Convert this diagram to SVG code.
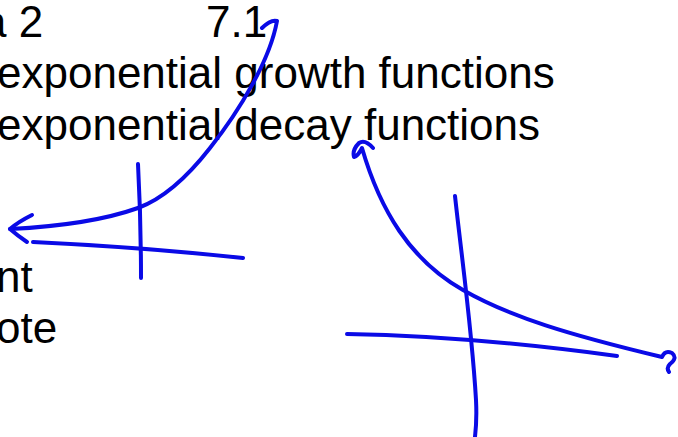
<svg xmlns="http://www.w3.org/2000/svg" width="678" height="437" viewBox="0 0 678 437">
<style>
text{font-family:"Liberation Sans",Arial,sans-serif;font-size:44px;fill:#000}
.ink{fill:none;stroke:#0a0ae6;stroke-width:4;stroke-linecap:round;stroke-linejoin:round}
</style>
<rect width="678" height="437" fill="#fff"/>
<g id="text">
<text x="-18" y="37">a 2</text>
<text x="206" y="37">7.1</text>
<text x="-3" y="88">exponential growth functions</text>
<text x="-3" y="140">exponential decay functions</text>
<text x="-4" y="292">nt</text>
<text x="-4" y="343">ote</text>
</g>
<g id="growth-graph">
<path class="ink" d="M262,28 Q271,19 277,21 C270,60 240,110 210,148 C185,180 160,200 138,208 C110,218 70,226 10,229"/>
<path class="ink" d="M32,215 Q18,222 10,229 Q18,236 27,242"/>
<path class="ink" d="M33,242 Q140,247 243,258"/>
<path class="ink" d="M138,164 Q141,220 141,278"/>
</g>
<g id="decay-graph">
<path class="ink" d="M373,148 Q365,139 359,143 Q352,150 354,157 Q358,156 362,148 C380,210 410,260 463,290 C510,317 570,335 662,357 Q665,350 672,353 Q678,358 670,364 Q666,368 669,372"/>
<path class="ink" d="M347,334 Q470,336 617,356"/>
<path class="ink" d="M455,196 C462,260 472,330 476,400 Q477,420 475,437"/>
</g>
</svg>
